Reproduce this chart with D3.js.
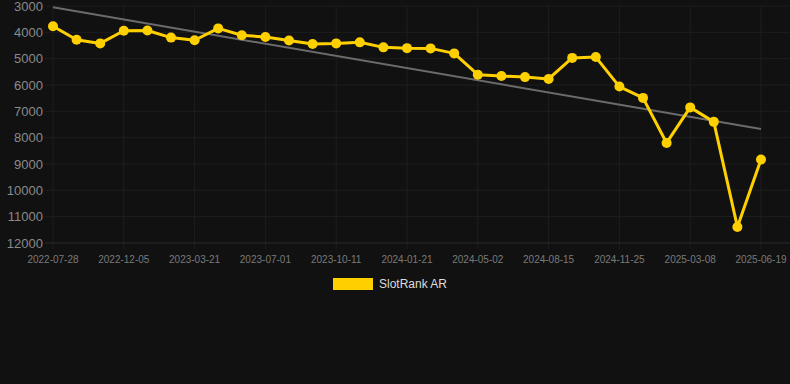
<!DOCTYPE html>
<html>
<head>
<meta charset="utf-8">
<script src="https://cdn.jsdelivr.net/npm/d3@7"></script>
<style>
html,body{margin:0;padding:0;background:#111111;}
svg{display:block;}
</style>
</head>
<body>
<svg id="chart" width="790" height="384"></svg>
<script>
const dates = [
  "2022-07-28","2022-08-09","2022-10-22","2022-12-05","2022-12-31","2023-02-05","2023-03-21","2023-04-20","2023-05-25","2023-07-01",
  "2023-08-05","2023-09-08","2023-10-11","2023-11-15","2023-12-18","2024-01-21","2024-02-25","2024-03-29","2024-05-02","2024-06-05",
  "2024-07-10","2024-08-15","2024-09-18","2024-10-22","2024-11-25","2024-12-30","2025-02-02","2025-03-08","2025-04-11","2025-05-15",
  "2025-06-19"
];
const rankValues = [
  3770,4280,4420,3940,3930,4200,4300,3850,4110,4180,
  4310,4440,4420,4380,4570,4600,4610,4800,5610,5660,
  5700,5770,4970,4940,6060,6490,8200,6850,7400,11390,
  8830
];
const trendValues = [3050, 7670];
const yTicks = [3000,4000,5000,6000,7000,8000,9000,10000,11000,12000];
const seriesName = "SlotRank AR";

const svg = d3.select("#chart");
const W = 790, H = 384;
const m = {left:53, right:29, top:6, bottom:141};

const x = d3.scalePoint().domain(dates).range([m.left, W - m.right]);
const y = d3.scaleLinear().domain([3000, 12000]).range([m.top, H - m.bottom]);

const gridColor = "#1e1e1e";

// vertical gridlines every 3rd date
const labeled = dates.filter((d,i) => i % 3 === 0);
const gx = svg.append("g");
gx.selectAll("line").data(labeled).enter().append("line")
  .attr("x1", d => x(d)).attr("x2", d => x(d))
  .attr("y1", m.top).attr("y2", y(12000) + 6)
  .attr("stroke", gridColor).attr("stroke-width", 1);
gx.selectAll("text").data(labeled).enter().append("text")
  .attr("x", d => x(d)).attr("y", 259).attr("dy", "0.35em")
  .attr("text-anchor", "middle")
  .attr("fill", "#7a7a7a").attr("font-family", "Liberation Sans, Arial, sans-serif").attr("font-size", 10)
  .text(d => d);

// horizontal gridlines + y labels
const gy = svg.append("g");
gy.selectAll("line").data(yTicks).enter().append("line")
  .attr("x1", 45).attr("x2", W)
  .attr("y1", d => y(d)).attr("y2", d => y(d))
  .attr("stroke", d => d === 12000 ? "#2b2b2b" : gridColor).attr("stroke-width", 1);
gy.selectAll("text").data(yTicks).enter().append("text")
  .attr("x", 43).attr("y", d => y(d)).attr("dy", "0.35em")
  .attr("text-anchor", "end")
  .attr("fill", "#8a8a8a").attr("font-family", "Liberation Sans, Arial, sans-serif").attr("font-size", 13)
  .text(d => d);

// trend line
svg.append("line")
  .attr("x1", x(dates[0])).attr("y1", y(trendValues[0]))
  .attr("x2", x(dates[dates.length-1])).attr("y2", y(trendValues[1]))
  .attr("stroke", "#6b6b6b").attr("stroke-width", 2);

// series line
const data = dates.map((d,i) => ({d, v: rankValues[i]}));
svg.append("path").datum(data)
  .attr("fill", "none").attr("stroke", "#FFD000").attr("stroke-width", 3)
  .attr("stroke-linejoin", "round")
  .attr("d", d3.line().x(p => x(p.d)).y(p => y(p.v)));
svg.append("g").selectAll("circle").data(data).enter().append("circle")
  .attr("cx", p => x(p.d)).attr("cy", p => y(p.v)).attr("r", 5)
  .attr("fill", "#FFD000");

// legend
const lg = svg.append("g");
lg.append("rect").attr("x", 333).attr("y", 278).attr("width", 40).attr("height", 12).attr("fill", "#FFD000");
lg.append("text").attr("x", 379).attr("y", 284).attr("dy", "0.35em")
  .attr("fill", "#dddddd").attr("font-family", "Liberation Sans, Arial, sans-serif").attr("font-size", 12)
  .text(seriesName);
</script>
</body>
</html>
